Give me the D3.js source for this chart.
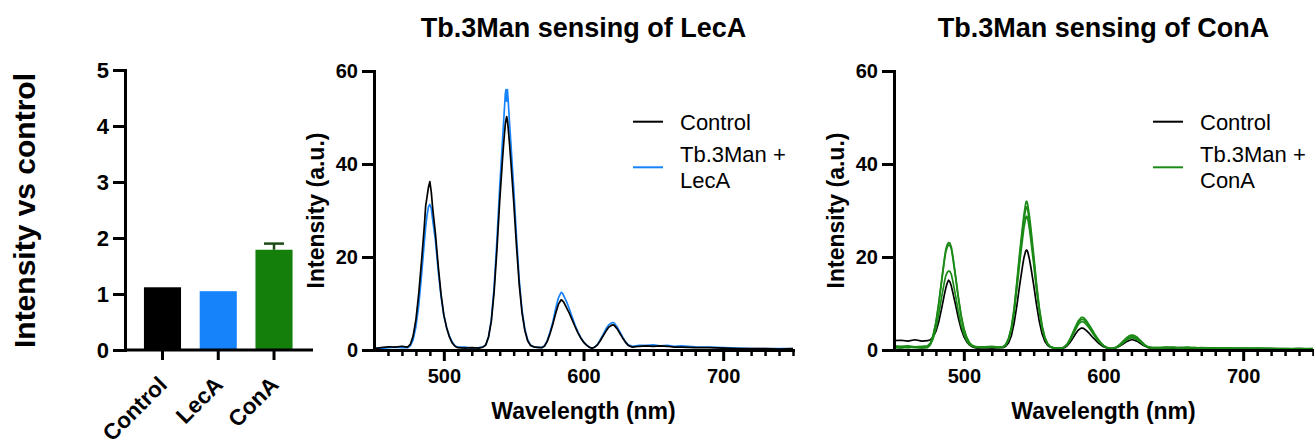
<!DOCTYPE html>
<html>
<head>
<meta charset="utf-8">
<script src="https://cdn.jsdelivr.net/npm/d3@7"></script>
<style>
  body { margin: 0; background: #fff; }
  svg { display: block; }
</style>
</head>
<body>
<svg id="fig" width="1314" height="445"></svg>
<script>
// ---- Bar panel: emission intensity relative to control ----
const barCategories = ["Control", "LecA", "ConA"];
const barValues = [1.12, 1.05, 1.79];
const barErrors = [0, 0, 0.11];
const barTicks = [0, 1, 2, 3, 4, 5];

// ---- Emission spectra (wavelength in nm, intensity in a.u.) ----
const wavelength = [
  450, 455, 460, 465, 470, 474,
  476, 478, 480, 482, 484, 486, 487, 488, 489, 490, 491, 492, 494, 496, 498, 500, 502, 504, 506, 508, 510,
  515, 520, 525,
  528, 530, 532, 534, 536, 538, 540, 542, 543, 544, 544.5, 545, 545.5, 546, 547, 548, 550, 552, 554, 556, 558, 560, 562, 565,
  570, 572, 574, 576, 578, 580, 582, 584, 585, 586, 588, 590, 592, 594, 596, 598, 600, 602, 604, 606,
  608, 610, 612, 614, 616, 618, 620, 621, 622, 624, 626, 628, 630, 632, 635,
  640, 645, 650, 655, 660, 665, 670, 680, 690, 700, 710, 720, 730, 740, 750
];

// LecA panel
const lecControl = [
  0.3, 0.5, 0.7, 0.6, 0.8, 0.6,
  1.2, 3.0, 6.5, 12.0, 19.0, 26.5, 31.0, 33.0, 35.0, 36.2, 34.0, 30.5, 25.0, 18.0, 12.0, 7.5, 4.8, 2.8, 1.5, 0.8, 0.5,
  0.4, 0.5, 0.4,
  0.6, 1.1, 2.8, 6.2, 12.5, 21.5, 32.0, 41.0, 45.0, 48.5, 49.5, 50.2, 49.5, 48.0, 44.5, 40.5, 32.0, 22.5, 14.0, 8.0, 4.2, 2.0, 1.0, 0.6,
  0.5, 0.8, 1.8, 3.5, 5.5, 7.8, 9.8, 10.8, 10.6, 10.2, 9.0, 7.8, 6.4, 5.0, 3.7, 2.6, 1.7, 1.1, 0.6, 0.4,
  0.6, 1.1, 2.0, 3.0, 4.0, 4.9, 5.3, 5.4, 5.3, 4.6, 3.6, 2.6, 1.7, 1.0, 0.6,
  0.8, 0.9, 0.8, 0.9, 0.8, 0.6, 0.6, 0.5, 0.5, 0.4, 0.3, 0.3, 0.3, 0.2, 0.3
];
const lecLecA = [
  0.4, 0.3, 0.5, 0.6, 0.5, 0.5,
  0.9, 2.2, 5.0, 9.5, 16.0, 23.0, 26.5, 29.0, 30.8, 31.3, 30.5, 28.0, 23.5, 17.0, 11.5, 7.5, 4.8, 3.0, 1.7, 0.9, 0.6,
  0.6, 0.4, 0.5,
  0.7, 1.0, 2.8, 6.5, 13.5, 23.5, 35.0, 45.0, 50.0, 55.0, 56.0, 53.5, 56.0, 54.0, 49.0, 44.5, 35.0, 24.5, 15.0, 8.5, 4.5, 2.2, 1.1, 0.6,
  0.5, 0.9, 2.0, 3.8, 6.0, 8.8, 11.2, 12.4, 12.2, 11.6, 10.3, 8.7, 7.0, 5.3, 3.9, 2.7, 1.8, 1.1, 0.7, 0.4,
  0.6, 1.2, 2.2, 3.3, 4.5, 5.4, 5.8, 5.9, 5.8, 5.0, 3.9, 2.8, 1.8, 1.1, 0.8,
  1.0, 1.0, 1.1, 0.9, 1.0, 0.8, 0.9, 0.7, 0.6, 0.5, 0.4, 0.3, 0.3, 0.3, 0.3
];

// ConA panel: control and three ConA replicates
const conControl = [
  2.0, 2.1, 1.9, 2.2, 1.9, 2.0,
  2.2, 2.8, 4.0, 6.0, 8.8, 11.8, 13.2, 14.3, 15.0, 14.7, 13.8, 12.5, 9.8, 7.0, 4.6, 2.9, 1.8, 1.1, 0.7, 0.5, 0.4,
  0.5, 0.4, 0.5,
  0.5, 0.8, 1.5, 3.0, 5.8, 9.6, 14.0, 18.0, 19.8, 21.0, 21.4, 21.5, 21.3, 20.8, 19.5, 17.8, 14.0, 9.8, 6.2, 3.5, 1.9, 1.0, 0.6, 0.4,
  0.4, 0.5, 0.9, 1.6, 2.5, 3.5, 4.3, 4.7, 4.7, 4.6, 4.1, 3.5, 2.8, 2.2, 1.6, 1.1, 0.7, 0.5, 0.4, 0.3,
  0.4, 0.6, 0.9, 1.3, 1.7, 2.0, 2.2, 2.2, 2.1, 1.9, 1.5, 1.1, 0.8, 0.5, 0.4,
  0.4, 0.5, 0.4, 0.5, 0.4, 0.4, 0.4, 0.3, 0.3, 0.3, 0.3, 0.3, 0.2, 0.3, 0.2
];
const conConA1 = [
  0.9, 0.8, 0.9, 0.7, 0.8, 0.9,
  1.5, 3.2, 6.0, 10.0, 14.8, 19.5, 21.5, 22.6, 23.1, 23.0, 22.2, 20.5, 16.2, 11.6, 7.6, 4.7, 2.8, 1.6, 1.0, 0.8, 0.7,
  0.7, 0.8, 0.6,
  0.7, 1.2, 2.5, 4.8, 9.0, 14.8, 21.0, 26.5, 29.0, 31.0, 31.8, 32.0, 31.6, 30.8, 28.8, 26.2, 20.5, 14.5, 9.2, 5.3, 2.8, 1.4, 0.7, 0.4,
  0.4, 0.7, 1.3, 2.4, 3.7, 5.1, 6.3, 7.0, 7.0, 6.9, 6.2, 5.3, 4.3, 3.3, 2.4, 1.6, 1.0, 0.6, 0.4, 0.3,
  0.5, 0.8, 1.3, 1.9, 2.5, 3.0, 3.2, 3.2, 3.1, 2.8, 2.2, 1.6, 1.0, 0.7, 0.5,
  0.5, 0.6, 0.5, 0.5, 0.6, 0.4, 0.5, 0.4, 0.4, 0.3, 0.4, 0.3, 0.3, 0.3, 0.2
];
const conConA2 = [
  0.6, 0.7, 0.5, 0.7, 0.6, 0.6,
  1.3, 3.0, 5.8, 9.8, 14.5, 19.0, 21.0, 22.0, 22.6, 22.5, 21.8, 20.0, 15.8, 11.3, 7.4, 4.5, 2.6, 1.5, 0.9, 0.7, 0.6,
  0.6, 0.7, 0.5,
  0.6, 1.1, 2.4, 4.6, 8.6, 14.2, 20.2, 25.5, 28.0, 29.8, 30.6, 30.8, 30.4, 29.6, 27.6, 25.0, 19.6, 13.8, 8.8, 5.0, 2.6, 1.3, 0.7, 0.4,
  0.4, 0.6, 1.2, 2.2, 3.5, 4.8, 6.0, 6.6, 6.6, 6.5, 5.9, 5.0, 4.1, 3.1, 2.2, 1.5, 0.9, 0.6, 0.4, 0.3,
  0.4, 0.7, 1.2, 1.7, 2.3, 2.7, 2.9, 2.9, 2.8, 2.5, 2.0, 1.4, 0.9, 0.6, 0.5,
  0.5, 0.5, 0.6, 0.4, 0.5, 0.5, 0.4, 0.4, 0.3, 0.4, 0.3, 0.3, 0.3, 0.2, 0.3
];
const conConA3 = [
  0.5, 0.4, 0.6, 0.5, 0.4, 0.5,
  1.1, 2.4, 4.6, 7.6, 11.2, 14.5, 15.9, 16.6, 17.0, 16.9, 16.3, 15.0, 11.8, 8.4, 5.5, 3.4, 2.0, 1.2, 0.8, 0.6, 0.5,
  0.5, 0.6, 0.5,
  0.6, 1.0, 2.2, 4.3, 8.0, 13.2, 18.8, 23.8, 26.2, 27.9, 28.6, 28.8, 28.5, 27.8, 26.0, 23.6, 18.5, 13.0, 8.3, 4.7, 2.5, 1.2, 0.6, 0.4,
  0.4, 0.6, 1.1, 2.0, 3.2, 4.4, 5.5, 6.1, 6.1, 6.0, 5.4, 4.6, 3.7, 2.8, 2.0, 1.4, 0.9, 0.5, 0.4, 0.3,
  0.4, 0.6, 1.0, 1.5, 2.0, 2.4, 2.6, 2.6, 2.5, 2.2, 1.8, 1.3, 0.9, 0.6, 0.4,
  0.4, 0.5, 0.5, 0.4, 0.4, 0.5, 0.4, 0.3, 0.4, 0.3, 0.3, 0.3, 0.2, 0.3, 0.3
];

const spectrumYTicks = [0, 20, 40, 60];
const spectrumXTicks = [500, 600, 700];

// ---- Styling ----
const FONT = "'Liberation Sans', Arial, Helvetica, sans-serif";
const BLACK = "#000000";
const BLUE = "#1683fb";
const GREEN_BAR = "#147f0a";
const GREEN_LINE = "#1c8a17";
const AXIS_W = 3;

const svg = d3.select("#fig");

function styleAxis(g, fontSize) {
  g.select(".domain").attr("stroke", BLACK).attr("stroke-width", AXIS_W).attr("stroke-linecap", "square");
  g.selectAll(".tick line").attr("stroke", BLACK).attr("stroke-width", AXIS_W);
  g.selectAll(".tick text")
    .attr("fill", BLACK)
    .style("font-family", FONT)
    .style("font-weight", "bold")
    .style("font-size", fontSize + "px");
}

// ================= Bar chart =================
(function drawBars() {
  const axisX = 125, baseY = 350, topY = 70, rightX = 313;
  const y = d3.scaleLinear([0, 5], [baseY, topY]);
  const x = d3.scalePoint(barCategories, [134.6, 301.9]).padding(0.5);
  const bw = x.step() * 0.665;
  const colors = d3.scaleOrdinal(barCategories, [BLACK, BLUE, GREEN_BAR]);
  const g = svg.append("g");

  g.selectAll("rect.bar")
    .data(barCategories)
    .join("rect")
    .attr("class", "bar")
    .attr("x", (d) => x(d) - bw / 2)
    .attr("width", bw)
    .attr("y", (d, i) => y(barValues[i]))
    .attr("height", (d, i) => y(0) - y(barValues[i]))
    .attr("fill", (d) => colors(d));

  // error bars (upper arm only)
  const errs = barCategories.map((c, i) => ({ c, v: barValues[i], e: barErrors[i] })).filter((d) => d.e > 0);
  const eg = g.selectAll("g.err").data(errs).join("g").attr("class", "err")
    .attr("stroke", "#1d4a16").attr("stroke-width", 2.5);
  eg.append("line")
    .attr("x1", (d) => x(d.c)).attr("x2", (d) => x(d.c))
    .attr("y1", (d) => y(d.v)).attr("y2", (d) => y(d.v + d.e));
  eg.append("line")
    .attr("x1", (d) => x(d.c) - 10).attr("x2", (d) => x(d.c) + 10)
    .attr("y1", (d) => y(d.v + d.e)).attr("y2", (d) => y(d.v + d.e));

  // y axis
  const ya = g.append("g").attr("transform", `translate(${axisX},0)`)
    .call(d3.axisLeft(y).tickValues(barTicks).tickSize(12).tickSizeOuter(0).tickPadding(4).tickFormat(d3.format("d")));
  styleAxis(ya, 22);

  // x axis
  g.append("line")
    .attr("x1", axisX).attr("x2", rightX)
    .attr("y1", baseY).attr("y2", baseY)
    .attr("stroke", BLACK).attr("stroke-width", AXIS_W);
  g.selectAll("line.ctick")
    .data(barCategories)
    .join("line")
    .attr("class", "ctick")
    .attr("x1", (d) => x(d)).attr("x2", (d) => x(d))
    .attr("y1", baseY).attr("y2", baseY + 10)
    .attr("stroke", BLACK).attr("stroke-width", AXIS_W);
  g.selectAll("text.clabel")
    .data(barCategories)
    .join("text")
    .attr("class", "clabel")
    .attr("transform", (d) => `translate(${x(d) + 6},${baseY + 36}) rotate(-45)`)
    .attr("text-anchor", "end")
    .style("font-family", FONT)
    .style("font-weight", "bold")
    .style("font-size", "22.5px")
    .text((d) => d);

  // axis title
  g.append("text")
    .attr("transform", `translate(35,${(topY + baseY) / 2 + 0.5}) rotate(-90)`)
    .attr("text-anchor", "middle")
    .style("font-family", FONT)
    .style("font-weight", "bold")
    .style("font-size", "30px")
    .text("Intensity vs control");
})();

// ================= Spectrum panels =================
function drawSpectrum(opts) {
  const { left, title, series, legend } = opts;
  const right = left + 419, baseY = 350, topY = 71;
  const x = d3.scaleLinear([450, 750], [left, right]);
  const y = d3.scaleLinear([0, 60], [baseY, topY]);
  const g = svg.append("g");

  const line = d3.line().x((d) => x(d[0])).y((d) => y(d[1])).curve(d3.curveLinear);
  series.forEach((s) => {
    g.append("path")
      .datum(wavelength.map((w, i) => [w, s.values[i]]))
      .attr("d", line)
      .attr("fill", "none")
      .attr("stroke", s.color)
      .attr("stroke-width", 1.7)
      .attr("stroke-linejoin", "round");
  });

  // minor x ticks every 10 nm
  const minor = d3.range(460, 751, 10).filter((v) => !spectrumXTicks.includes(v));
  const xm = g.append("g").attr("transform", `translate(0,${baseY})`)
    .call(d3.axisBottom(x).tickValues(minor).tickSize(6).tickSizeOuter(0).tickFormat(""));
  styleAxis(xm, 20);
  xm.selectAll(".tick line").attr("stroke-width", 2.5);

  const xa = g.append("g").attr("transform", `translate(0,${baseY})`)
    .call(d3.axisBottom(x).tickValues(spectrumXTicks).tickSize(11).tickSizeOuter(0).tickPadding(8));
  styleAxis(xa, 20);

  const ya = g.append("g").attr("transform", `translate(${left},0)`)
    .call(d3.axisLeft(y).tickValues(spectrumYTicks).tickSize(12).tickSizeOuter(0).tickPadding(4));
  styleAxis(ya, 20);

  // titles
  const cx = (x(500) + x(700)) / 2;
  g.append("text")
    .attr("x", cx).attr("y", 37)
    .attr("text-anchor", "middle")
    .style("font-family", FONT).style("font-weight", "bold").style("font-size", "27px")
    .text(title);
  g.append("text")
    .attr("x", cx).attr("y", 419)
    .attr("text-anchor", "middle")
    .style("font-family", FONT).style("font-weight", "bold").style("font-size", "23px")
    .text("Wavelength (nm)");
  g.append("text")
    .attr("transform", `translate(${left - 50},${(topY + baseY) / 2}) rotate(-90)`)
    .attr("text-anchor", "middle")
    .style("font-family", FONT).style("font-weight", "bold").style("font-size", "23px")
    .text("Intensity (a.u.)");

  // legend
  const lx0 = left + 259, lx1 = left + 289, tx = left + 306;
  const lg = g.append("g").style("font-family", FONT).style("font-size", "22px");
  legend.forEach((item) => {
    lg.append("line")
      .attr("x1", lx0).attr("x2", lx1)
      .attr("y1", item.lineY).attr("y2", item.lineY)
      .attr("stroke", item.color).attr("stroke-width", 2);
    item.lines.forEach((t, j) => {
      lg.append("text").attr("x", tx).attr("y", item.textY + j * 26.6).text(t);
    });
  });
}

drawSpectrum({
  left: 374,
  title: "Tb.3Man sensing of LecA",
  series: [
    { values: lecLecA, color: BLUE },
    { values: lecControl, color: BLACK }
  ],
  legend: [
    { color: BLACK, lineY: 121.7, textY: 130, lines: ["Control"] },
    { color: BLUE, lineY: 167.3, textY: 161.7, lines: ["Tb.3Man +", "LecA"] }
  ]
});

drawSpectrum({
  left: 894,
  title: "Tb.3Man sensing of ConA",
  series: [
    { values: conControl, color: BLACK },
    { values: conConA3, color: GREEN_LINE },
    { values: conConA2, color: GREEN_LINE },
    { values: conConA1, color: GREEN_LINE }
  ],
  legend: [
    { color: BLACK, lineY: 121.7, textY: 130, lines: ["Control"] },
    { color: GREEN_LINE, lineY: 167.3, textY: 161.7, lines: ["Tb.3Man +", "ConA"] }
  ]
});
</script>
</body>
</html>
